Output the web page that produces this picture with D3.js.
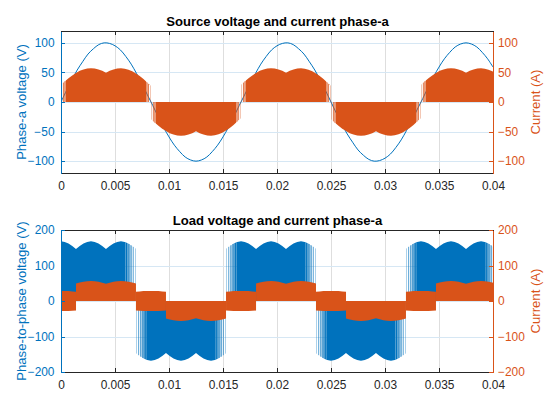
<!DOCTYPE html>
<html>
<head>
<meta charset="utf-8">
<script src="https://cdn.jsdelivr.net/npm/d3@7"></script>
<style>
  body { margin: 0; background: #fff; }
  svg { display: block; font-family: "Liberation Sans", Arial, Helvetica, sans-serif; }
  .tick text { font-size: 11.9px; }
</style>
</head>
<body>
<div id="chart"></div>
<script>

// ---- data ----

const xTicks = [0, 0.005, 0.01, 0.015, 0.02, 0.025, 0.03, 0.035, 0.04];
const xTickLabels = ["0", "0.005", "0.01", "0.015", "0.02", "0.025", "0.03", "0.035", "0.04"];
const topTicks = [-100, -50, 0, 50, 100];
const bottomTicks = [-200, -100, 0, 100, 200];

// source phase-a voltage, sampled every 0.5 ms
const sourceTime = d3.range(81).map(i => i * 0.0005);
const sourceVoltage = [
    0, 19, 37, 54, 68, 81, 90, 97, 100, 99,
    95, 88, 77, 64, 48, 31, 12, -6, -25, -43,
    -59, -73, -84, -93, -98, -100, -98, -93, -84, -73,
    -59, -43, -25, -6, 12, 31, 48, 64, 77, 88,
    95, 99, 100, 97, 90, 81, 68, 54, 37, 19,
    0, -19, -37, -54, -68, -81, -90, -97, -100, -99,
    -95, -88, -77, -64, -48, -31, -12, 6, 25, 43,
    59, 73, 84, 93, 98, 100, 98, 93, 84, 73, 59
];

// source current: switched band, envelope over one half cycle
const sourceCurrentEdges = [0, 0.00833, 0.01667, 0.025, 0.03333, 0.04167];
const sourceCurrentKind = ["pos", "neg", "pos", "neg", "pos"];
const sourceCurrentEnvelope = [
    29, 35, 40, 45, 49, 53, 55, 56.5, 57, 56.5, 55, 53, 49.5,
    53, 55, 56.5, 57, 56, 54.5, 52, 48, 44, 39, 33, 27
];

// load phase-to-phase voltage: switched band
const loadVoltageEdges = [-0.00139, 0.00694, 0.01528, 0.02361, 0.03194, 0.04028];
const loadVoltageKind = ["pos", "neg", "pos", "neg", "pos"];
const loadVoltageEnvelope = [
    146.5, 155, 162, 166.5, 168, 166.5, 162, 155,
    146.5, 155, 162, 166.5, 168, 166.5, 162, 155,
    146.5, 155, 162, 166.5, 168, 166.5, 162, 155, 146.5
];

// load current: blocks of 0..envelope and a +/- ripple band between them
const loadCurrentEdges = [-0.00139, 0.00139, 0.00694, 0.00972, 0.01528, 0.01806,
                          0.02361, 0.02639, 0.03194, 0.03472, 0.04028];
const loadCurrentKind = ["both", "pos", "both", "neg", "both", "pos", "both", "neg", "both", "pos"];
const loadCurrentEnvelope = [49, 52, 54, 55.5, 56, 55.5, 54, 51.5, 48.5, 51.5, 54, 55.5, 56, 55.5, 54, 52, 49];
const loadCurrentRippleHi = [26, 27, 28, 28.5, 28.5, 28.5, 28, 27, 26];
const loadCurrentRippleLo = [-27, -27.5, -28, -28, -28, -28, -28, -27.5, -27];

// thin switching pulses near each edge, ms from the edge
const voltageEdgePulses = [[0.05, 0.08], [0.23, 0.29], [0.41, 0.5], [0.59, 0.71], [0.77, 0.92]];
const voltageFringe = 0.95;
const currentEdgePulses = [[0.04, 0.07], [0.18, 0.25], [0.32, 0.42]];
const currentFringe = 0.45;


// ---- chart ----

const width = 560;
const height = 413;
const blue = "#0072BD";
const orange = "#D95319";
const axisGrey = "#262626";

const svg = d3.select("#chart")
    .append("svg")
    .attr("width", width)
    .attr("height", height);

const xScale = d3.scaleLinear()
    .domain([0, 0.04])
    .range([61, 493]);

function segmentsFrom(edges, kinds, env, rippleHi, rippleLo) {
    return kinds.map(function(kind, i) {
        const t0 = edges[i], t1 = edges[i + 1];
        let hi, lo;
        if (kind === "pos") { hi = env; lo = env.map(() => 0); }
        else if (kind === "neg") { hi = env.map(() => 0); lo = env.map(v => -v); }
        else { hi = rippleHi; lo = rippleLo; }
        const times = hi.map((_, j) => t0 + j * (t1 - t0) / (hi.length - 1));
        return {
            t0: t0, t1: t1, times: times,
            hi: d3.scaleLinear().domain(times).range(hi).clamp(true),
            lo: d3.scaleLinear().domain(times).range(lo).clamp(true)
        };
    });
}

function drawBand(g, segs, yScale, color, pulses, fringe) {
    const area = d3.area()
        .x(d => xScale(d.t))
        .y0(d => yScale(d.lo))
        .y1(d => yScale(d.hi));
    const f = fringe * 1e-3;
    segs.forEach(function(s) {
        const a = s.t0 + f, b = s.t1 - f;
        const ts = [a].concat(s.times.filter(t => t > a && t < b), [b]);
        g.append("path")
            .datum(ts.map(t => ({ t: t, lo: s.lo(t), hi: s.hi(t) })))
            .attr("d", area)
            .attr("fill", color);
        pulses.forEach(function(p) {
            const p0 = p[0] * 1e-3, p1 = p[1] * 1e-3;
            [[s.t0 + p0, s.t0 + p1], [s.t1 - p1, s.t1 - p0]].forEach(function(span) {
                g.append("path")
                    .datum(span.map(t => ({ t: t, lo: s.lo(t), hi: s.hi(t) })))
                    .attr("d", area)
                    .attr("fill", color);
            });
        });
    });
}

function drawPanel(cfg, drawData) {
    const yScale = d3.scaleLinear().domain(cfg.domain).range([cfg.bottom, cfg.top]);
    const g = svg.append("g");

    const clipId = "clip" + cfg.top;
    svg.append("clipPath").attr("id", clipId)
        .append("rect")
        .attr("x", 61).attr("y", cfg.top)
        .attr("width", 433).attr("height", cfg.bottom - cfg.top + 1);

    // grid
    const grid = g.append("g").attr("shape-rendering", "crispEdges");
    grid.selectAll(".vgrid")
        .data(xTicks.slice(1, -1))
        .enter()
        .append("line")
            .attr("x1", d => xScale(d) + 0.5).attr("x2", d => xScale(d) + 0.5)
            .attr("y1", cfg.top).attr("y2", cfg.bottom)
            .attr("stroke", "#dedede");
    grid.selectAll(".hgrid")
        .data(cfg.ticks)
        .enter()
        .append("line")
            .attr("x1", 61).attr("x2", 493)
            .attr("y1", d => yScale(d) + 0.5).attr("y2", d => yScale(d) + 0.5)
            .attr("stroke", "#d6e7f4");

    const plot = g.append("g").attr("clip-path", `url(#${clipId})`);
    drawData(plot, yScale);

    // axes
    const xAxis = g.append("g")
        .attr("transform", `translate(0,${cfg.bottom})`)
        .call(d3.axisBottom(xScale)
            .tickValues(xTicks)
            .tickFormat((d, i) => xTickLabels[i])
            .tickSizeInner(-4.3).tickSizeOuter(0).tickPadding(8.5));
    g.append("g")
        .attr("transform", `translate(0,${cfg.top})`)
        .call(d3.axisTop(xScale)
            .tickValues(xTicks)
            .tickFormat("")
            .tickSizeInner(-4.3).tickSizeOuter(0));
    const yLeft = g.append("g")
        .attr("class", "yl")
        .attr("transform", "translate(61,0)")
        .call(d3.axisLeft(yScale)
            .tickValues(cfg.ticks)
            .tickSizeInner(-4.3).tickSizeOuter(0).tickPadding(6.5));
    const yRight = g.append("g")
        .attr("class", "yr")
        .attr("transform", "translate(493,0)")
        .call(d3.axisRight(yScale)
            .tickValues(cfg.ticks)
            .tickSizeInner(-4.3).tickSizeOuter(0).tickPadding(5));

    g.selectAll(".domain, .tick line").attr("stroke", axisGrey).attr("shape-rendering", "crispEdges");
    g.selectAll(".tick text").attr("fill", axisGrey).attr("font-family", null);
    yLeft.selectAll(".domain, .tick line").attr("stroke", blue);
    yLeft.selectAll(".tick text").attr("fill", blue);
    yRight.selectAll(".domain, .tick line").attr("stroke", orange);
    yRight.selectAll(".tick text").attr("fill", orange);
    g.selectAll(".tick text").attr("font-size", null);

    // titles and axis labels
    g.append("text")
        .attr("x", 277.5)
        .attr("y", cfg.top - 5)
        .attr("text-anchor", "middle")
        .attr("font-size", "13.1px")
        .attr("font-weight", "bold")
        .attr("fill", "#000")
        .text(cfg.title);

    const mid = (cfg.top + cfg.bottom) / 2;
    g.append("text")
        .attr("transform", `translate(26,${mid}) rotate(-90)`)
        .attr("text-anchor", "middle")
        .attr("font-size", "13.1px")
        .attr("fill", blue)
        .text(cfg.leftLabel);
    g.append("text")
        .attr("transform", `translate(539.5,${mid}) rotate(-90)`)
        .attr("text-anchor", "middle")
        .attr("font-size", "13.1px")
        .attr("fill", orange)
        .text(cfg.rightLabel);
}


// top: source voltage and current
drawPanel({
    top: 31, bottom: 173, domain: [-120, 120], ticks: topTicks,
    title: "Source voltage and current phase-a",
    leftLabel: "Phase-a voltage (V)", rightLabel: "Current (A)"
}, function(plot, yScale) {
    const line = d3.line()
        .x((d, i) => xScale(sourceTime[i]))
        .y(d => yScale(d))
        .curve(d3.curveCatmullRom);
    plot.append("path")
        .datum(sourceVoltage)
        .attr("d", line)
        .attr("fill", "none")
        .attr("stroke", blue)
        .attr("stroke-width", 1);

    const segs = segmentsFrom(sourceCurrentEdges, sourceCurrentKind, sourceCurrentEnvelope);
    drawBand(plot, segs, yScale, orange, currentEdgePulses, currentFringe);
});

// bottom: load voltage and current
drawPanel({
    top: 230, bottom: 372, domain: [-200, 200], ticks: bottomTicks,
    title: "Load voltage and current phase-a",
    leftLabel: "Phase-to-phase voltage (V)", rightLabel: "Current (A)"
}, function(plot, yScale) {
    const vSegs = segmentsFrom(loadVoltageEdges, loadVoltageKind, loadVoltageEnvelope);
    drawBand(plot, vSegs, yScale, blue, voltageEdgePulses, voltageFringe);

    const iSegs = segmentsFrom(loadCurrentEdges, loadCurrentKind, loadCurrentEnvelope,
                               loadCurrentRippleHi, loadCurrentRippleLo);
    drawBand(plot, iSegs, yScale, orange, [], 0);
});

</script>
</body>
</html>
